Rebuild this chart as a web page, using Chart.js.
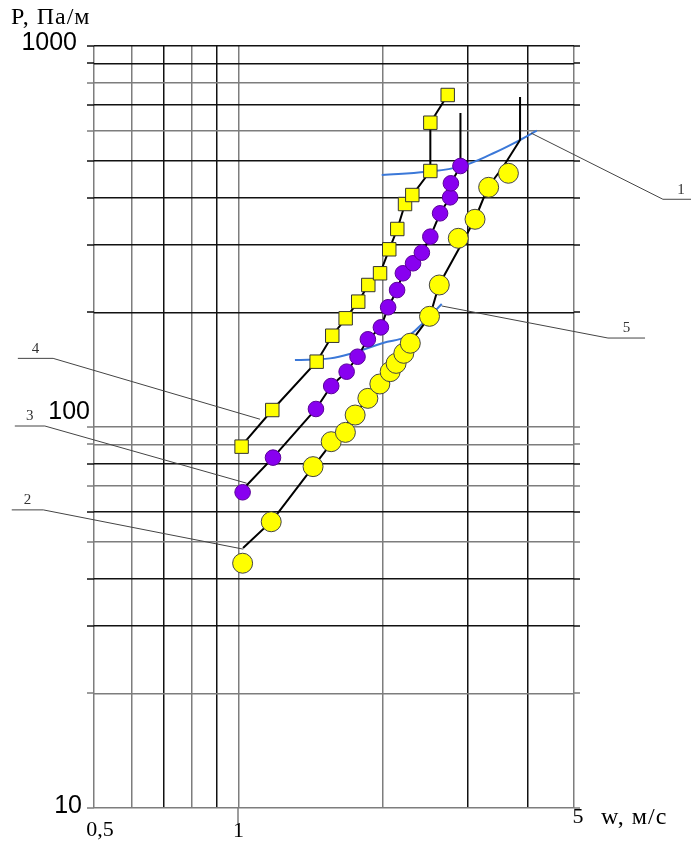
<!DOCTYPE html>
<html>
<head>
<meta charset="utf-8">
<script src="https://cdn.jsdelivr.net/npm/chart.js@4.4.1/dist/chart.umd.min.js"></script>
<style>
    html, body { margin: 0; padding: 0; background: #fff; }
    #wrap { width: 691px; height: 859px; }
</style>
</head>
<body>
<div id="wrap"><canvas id="pressureChart" width="691" height="859"></canvas></div>
<script>
// Pressure drop P (Pa/m) against velocity w (m/s), log-log grid

// grid lines of both axes
const xTicks = [0.5, 0.6, 0.7, 0.8, 0.9, 1, 2, 3, 4, 5];
const yTicks = [10, 20, 30, 40, 50, 60, 70, 80, 90, 100, 200, 300, 400, 500, 600, 700, 800, 900, 1000];

// labelled ticks
const xLabelValues = [0.5, 1, 5];
const xLabelTexts = ['0,5', '1', '5'];
const yLabelValues = [10, 100, 1000];
const yLabelTexts = ['10', '100', '1000'];

// curve 2 - yellow circles
const w2 = [1.02, 1.17, 1.43, 1.56, 1.67, 1.75, 1.86, 1.97, 2.07, 2.13, 2.21, 2.28, 2.50, 2.62, 2.87, 3.11, 3.32, 3.65];
const p2 = [43.9, 56.4, 78.7, 91.5, 96.8, 107.5, 118.9, 129.7, 139.7, 146.9, 156.1, 165.9, 195.2, 235.9, 312.8, 350.9, 425.7, 463.4];

// curve 3 - violet circles
const w3 = [1.02, 1.18, 1.45, 1.56, 1.68, 1.77, 1.86, 1.98, 2.05, 2.14, 2.20, 2.31, 2.41, 2.51, 2.63, 2.76, 2.77, 2.90];
const p3 = [67.4, 83.1, 111.5, 128.1, 139.7, 152.9, 169.9, 182.6, 206.2, 228.8, 253.2, 269.0, 286.8, 315.9, 363.8, 400.7, 436.1, 484.2];

// curve 4 - yellow squares
const w4 = [1.015, 1.176, 1.455, 1.568, 1.672, 1.776, 1.864, 1.972, 2.061, 2.142, 2.223, 2.302, 2.51, 2.51, 2.728];
const p4 = [88.8, 110.8, 148.4, 173.6, 192.9, 213.3, 235.9, 253.2, 292.7, 330.9, 384.8, 406.3, 469.8, 629, 743.7];

// black fitted lines
const fit2W = [1.022, 1.174, 1.429, 1.627, 1.861, 2.068, 2.277, 2.506, 2.616, 2.923, 3.110, 3.310, 3.557, 3.86, 3.86];
const fit2P = [48.1, 56.7, 78.5, 97.0, 119.2, 140.3, 166.2, 195.6, 235.9, 304.1, 351.6, 426.5, 481.3, 566.6, 734.7];
const fit3W = [1.032, 1.18, 1.45, 1.56, 1.68, 1.77, 1.86, 1.98, 2.05, 2.14, 2.20, 2.31, 2.41, 2.51, 2.63, 2.76, 2.77, 2.90, 2.90];
const fit3P = [69.6, 83.1, 111.5, 128.1, 139.7, 152.9, 169.9, 182.6, 206.2, 228.8, 253.2, 269.0, 286.8, 315.9, 363.8, 400.7, 436.1, 484.2, 667];
const fit4W = [1.027, 1.176, 1.455, 1.568, 1.672, 1.776, 1.864, 1.972, 2.061, 2.142, 2.223, 2.302, 2.51, 2.51, 2.728];
const fit4P = [90.8, 110.8, 148.4, 173.6, 192.9, 213.3, 235.9, 253.2, 292.7, 330.9, 384.8, 406.3, 469.8, 629, 743.7];

// blue boundary curves 1 and 5
const blue1W = [1.988, 2.467, 2.894, 3.395, 3.86, 4.181];
const blue1P = [458.6, 467.9, 482.3, 522.9, 566.6, 599.3];
const blue5W = [1.311, 1.551, 1.732, 2.0, 2.24, 2.424, 2.651];
const blue5P = [149.9, 151.4, 156.4, 166.2, 172.6, 187.5, 210.3];

// leader lines to the curve numbers, shelf end first so nothing gets trimmed
const leaderNames = ['1', '2', '3', '4', '5'];
const leaderW = [[8.77, 7.66, 4.068], [1.023, 0.392, 0.337], [1.040, 0.395, 0.342], [1.109, 0.411, 0.347], [7.03, 5.885, 2.651]];
const leaderP = [[396, 396, 591], [47.8, 60.6, 60.6], [71.2, 100.6, 100.6], [104.8, 151.4, 151.4], [171.2, 171.2, 207.8]];
// which two points of each leader form the shelf under the number
const shelfIdx = [[0, 1], [1, 2], [1, 2], [1, 2], [0, 1]];

const pts = (ws, ps) => ws.map((w, i) => ({x: w, y: ps[i]}));

const GRAY = '#7d7d7d';
const DARK = '#111';
const xGridColors = [GRAY, GRAY, DARK, GRAY, DARK, GRAY, GRAY, DARK, DARK, GRAY];
const yGridColors = [GRAY, GRAY, DARK, DARK, GRAY, DARK, GRAY, DARK, GRAY, GRAY,
                     DARK, DARK, DARK, DARK, GRAY, DARK, GRAY, DARK, DARK];

const SERIF = '"Liberation Serif", "Times New Roman", serif';
const SANS = '"Liberation Sans", Arial, sans-serif';

// stubs, tick at 1 and all the texts
const decorations = {
    id: 'decorations',
    beforeDatasetsDraw(chart) {
        const {ctx, chartArea: a, scales: {x, y}} = chart;
        ctx.save();
        ctx.lineWidth = 1.5;
        yTicks.forEach((v, i) => {
            const py = Math.round(y.getPixelForValue(v));
            ctx.strokeStyle = yGridColors[i];
            ctx.beginPath();
            ctx.moveTo(a.left - 7, py);
            ctx.lineTo(a.left, py);
            ctx.moveTo(a.right, py);
            ctx.lineTo(a.right + 6, py);
            ctx.stroke();
        });
        const x1 = Math.round(x.getPixelForValue(1));
        ctx.strokeStyle = GRAY;
        ctx.beginPath();
        ctx.moveTo(x1, a.bottom);
        ctx.lineTo(x1, a.bottom + 16);
        ctx.stroke();
        ctx.restore();
    },
    afterDraw(chart) {
        const {ctx, chartArea: a, scales: {x, y}} = chart;
        ctx.save();
        ctx.fillStyle = '#000';

        // y tick labels
        const yDx = [-12, -4, -17];
        const yDy = [-2, -15, -3];
        ctx.font = '25px ' + SANS;
        ctx.textAlign = 'right';
        ctx.textBaseline = 'middle';
        yLabelValues.forEach((v, i) => {
            ctx.fillText(yLabelTexts[i], a.left + yDx[i], y.getPixelForValue(v) + yDy[i]);
        });

        // x tick labels
        const xDx = [6, 0, 4];
        const xDy = [22, 23, 9];
        ctx.font = '22px ' + SERIF;
        ctx.textAlign = 'center';
        xLabelValues.forEach((v, i) => {
            ctx.fillText(xLabelTexts[i], x.getPixelForValue(v) + xDx[i], a.bottom + xDy[i]);
        });

        // axis titles
        ctx.font = '24px ' + SERIF;
        ctx.textAlign = 'left';
        ctx.letterSpacing = '1px';
        ctx.fillText('w, м/с', a.right + 27, a.bottom + 10);
        ctx.fillText('P, Па/м', 11, 18);
        ctx.letterSpacing = '0px';

        // curve numbers above the leader shelves
        ctx.font = '15px ' + SERIF;
        ctx.fillStyle = '#333';
        ctx.textAlign = 'center';
        ctx.textBaseline = 'bottom';
        leaderNames.forEach((name, i) => {
            const [s0, s1] = shelfIdx[i];
            const px = (x.getPixelForValue(leaderW[i][s0]) + x.getPixelForValue(leaderW[i][s1])) / 2;
            const py = y.getPixelForValue(leaderP[i][s0]);
            ctx.fillText(name, px + (i === 0 ? 4 : 0), py - 2);
        });
        ctx.restore();
    }
};

const datasets = [
    {
        label: '2', data: pts(w2, p2), order: 0,
        pointStyle: 'circle', pointRadius: 10,
        backgroundColor: '#ffff00', borderColor: '#444', borderWidth: 1
    },
    {
        label: '3', data: pts(w3, p3), order: 0,
        pointStyle: 'circle', pointRadius: 7.8,
        backgroundColor: '#8800f0', borderColor: '#5a0099', borderWidth: 1
    },
    {
        label: '4', data: pts(w4, p4), order: 0,
        pointStyle: 'rect', pointRadius: 9.5,
        backgroundColor: '#ffff00', borderColor: '#333', borderWidth: 1
    }
];

[[fit2W, fit2P], [fit3W, fit3P], [fit4W, fit4P]].forEach(([ws, ps]) => {
    datasets.push({
        data: pts(ws, ps), order: 1, showLine: true, pointRadius: 0,
        borderColor: '#000', borderWidth: 2, tension: 0
    });
});

[[blue1W, blue1P], [blue5W, blue5P]].forEach(([ws, ps]) => {
    datasets.push({
        data: pts(ws, ps), order: 3, showLine: true, pointRadius: 0,
        borderColor: '#3b78d8', borderWidth: 2, tension: 0.4
    });
});

leaderW.forEach((ws, i) => {
    datasets.push({
        data: pts(ws, leaderP[i]), order: 2, showLine: true, pointRadius: 0,
        borderColor: '#444', borderWidth: 1, tension: 0, clip: false
    });
});

new Chart(document.getElementById('pressureChart'), {
    type: 'scatter',
    data: { datasets: datasets },
    options: {
        responsive: false,
        animation: false,
        devicePixelRatio: 1,
        events: [],
        layout: { padding: { left: 94, right: 117, top: 46, bottom: 51 } },
        plugins: {
            legend: { display: false },
            tooltip: { enabled: false }
        },
        scales: {
            x: {
                type: 'logarithmic', min: 0.5, max: 5,
                afterBuildTicks: axis => { axis.ticks = xTicks.map(v => ({value: v})); },
                ticks: { display: false },
                border: { display: false },
                grid: { drawTicks: false, lineWidth: 1.5, color: c => xGridColors[c.index] }
            },
            y: {
                type: 'logarithmic', min: 10, max: 1000,
                afterBuildTicks: axis => { axis.ticks = yTicks.map(v => ({value: v})); },
                ticks: { display: false },
                border: { display: false },
                grid: { drawTicks: false, lineWidth: 1.5, color: c => yGridColors[c.index] }
            }
        }
    },
    plugins: [decorations]
});
</script>
</body>
</html>
